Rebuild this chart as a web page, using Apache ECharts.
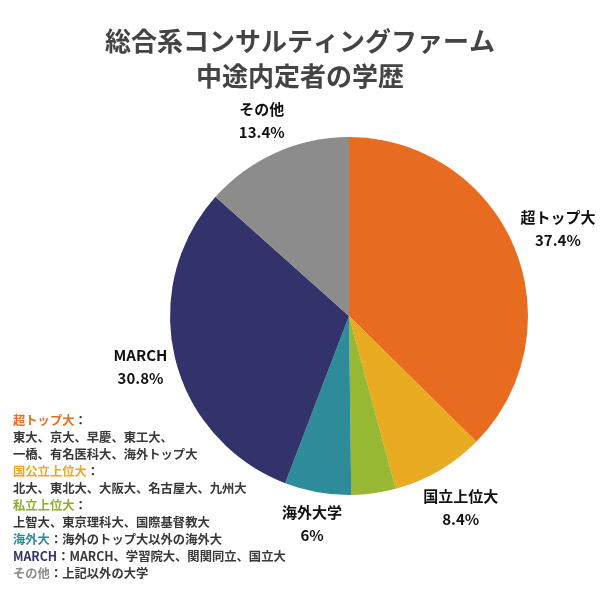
<!DOCTYPE html>
<html><head><meta charset="utf-8">
<script src="https://cdn.jsdelivr.net/npm/echarts@6/dist/echarts.min.js"></script>
<style>html,body{margin:0;padding:0;background:#fff}#c{width:600px;height:600px}</style>
</head><body><div id="c"></div>
<script>
const categories = ['超トップ大', '国立上位大', '私立上位大', '海外大学', 'MARCH', 'その他'];
const values = [37.4, 8.4, 4, 6, 30.8, 13.4];
const colors = ['#E86C1F', '#E8AB22', '#97B832', '#2E8B99', '#33336B', '#8C8C8C'];
const showLabel = [true, true, false, true, true, true];
const legendRows = [
  [['o', '超トップ大'], ['t', '：']],
  [['t', '東大、京大、早慶、東工大、']],
  [['t', '一橋、有名医科大、海外トップ大']],
  [['y', '国公立上位大'], ['t', '：']],
  [['t', '北大、東北大、大阪大、名古屋大、九州大']],
  [['g', '私立上位大'], ['t', '：']],
  [['t', '上智大、東京理科大、国際基督教大']],
  [['c', '海外大'], ['t', '：海外のトップ大以外の海外大']],
  [['n', 'MARCH'], ['t', '：MARCH、学習院大、関関同立、国立大']],
  [['k', 'その他'], ['t', '：上記以外の大学']]
];
const FONT = '"Noto Sans CJK JP", "Noto Sans", sans-serif';
const legendText = legendRows.map(r => r.map(p => '{' + p[0] + '|' + p[1] + '}').join('')).join('\n');
const rs = (c) => ({ fill: c, fontSize: 12.3, fontWeight: 'bold', fontFamily: FONT, lineHeight: 17 });

const chart = echarts.init(document.getElementById('c'));
const GAP = 4;
chart.setOption({
  animation: false,
  title: {
    text: '総合系コンサルティングファーム\n中途内定者の学歴',
    left: 'center', top: 19,
    textStyle: { fontSize: 26, fontWeight: 'bold', color: '#444', fontFamily: FONT, lineHeight: 35 }
  },
  graphic: [{
    type: 'text', left: 13, top: 414.5,
    style: {
      text: legendText,
      rich: { o: rs('#E86C1F'), t: rs('#383838'), y: rs('#E8A920'), g: rs('#8CB02E'), c: rs('#2E8B99'), n: rs('#33336B'), k: rs('#8C8C8C') },
      font: 'bold 12.3px ' + FONT
    }
  }],
  series: [{
    type: 'pie',
    center: [349, 316],
    radius: [0, 179],
    startAngle: 90,
    clockwise: true,
    avoidLabelOverlap: false,
    label: {
      show: true, position: 'outside',
      formatter: p => p.name + '\n' + p.value + '%',
      fontSize: 15, fontWeight: 'bold', color: '#111', fontFamily: FONT, lineHeight: 23, align: 'center'
    },
    labelLine: { show: true, length: 10, length2: 0, lineStyle: { color: 'rgba(0,0,0,0)', width: 0 } },
    labelLayout: function (p) {
      const pts = p.labelLinePoints;
      if (!pts || pts.length < 2) return {};
      let dx = pts[1][0] - pts[0][0], dy = pts[1][1] - pts[0][1];
      const len = Math.hypot(dx, dy) || 1; dx /= len; dy /= len;
      const w = p.labelRect.width, h = p.labelRect.height;
      const s = GAP + Math.abs(dx) * w / 2 + Math.abs(dy) * h / 2;
      return { x: pts[0][0] + dx * s, y: pts[0][1] + dy * s, align: 'center', verticalAlign: 'middle' };
    },
    itemStyle: { borderColor: '#fff', borderWidth: 0 },
    emphasis: { disabled: true },
    data: categories.map((n, i) => ({ name: n, value: values[i], itemStyle: { color: colors[i] }, label: { show: showLabel[i] }, labelLine: { show: showLabel[i] } }))
  }]
});
</script></body></html>
